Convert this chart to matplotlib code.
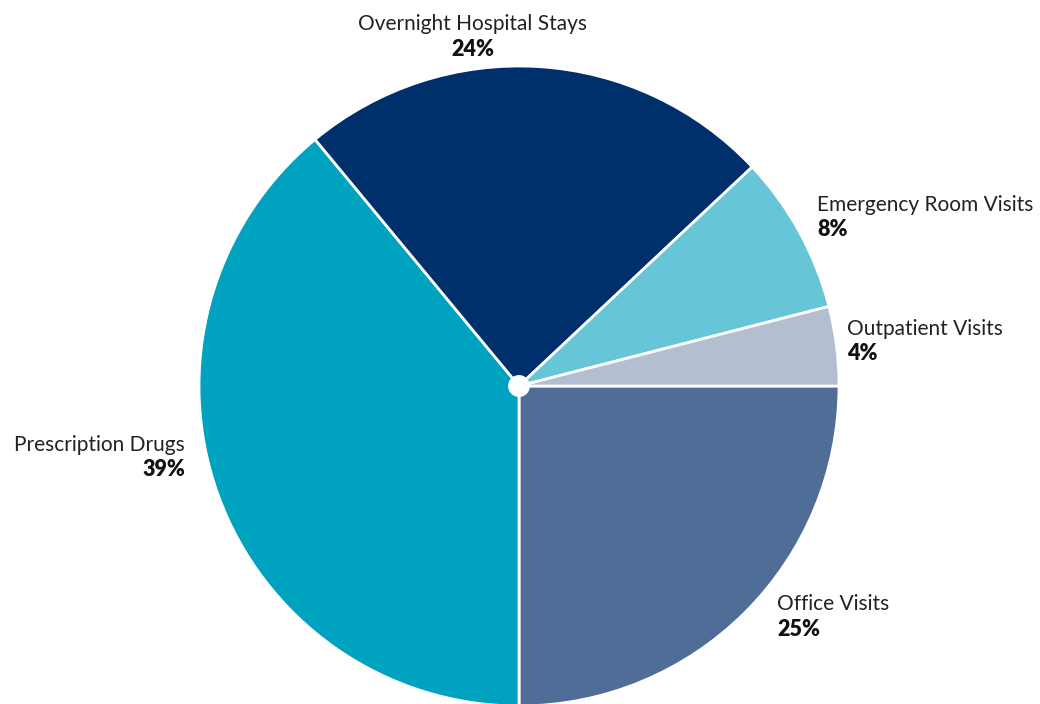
import matplotlib
matplotlib.use("Agg")
import matplotlib.pyplot as plt

categories = ["Office Visits", "Prescription Drugs", "Overnight Hospital Stays",
              "Emergency Room Visits", "Outpatient Visits"]
shares = [25, 39, 24, 8, 4]
colors = ["#4F6D97", "#00A3BF", "#00306B", "#66C5D6", "#B3BFD1"]

W, H = 1040, 704
fig = plt.figure(figsize=(W / 100, H / 100), dpi=100)

cx, cy, r = 519, 386, 320
ax = fig.add_axes([(cx - r) / W, (H - cy - r) / H, 2 * r / W, 2 * r / H])

ax.pie(shares, colors=colors, startangle=0, counterclock=False, radius=1,
       wedgeprops=dict(edgecolor="white", linewidth=2))
ax.add_patch(plt.Circle((0, 0), 0.032, color="white", zorder=5))
ax.set_xlim(-1, 1)
ax.set_ylim(-1, 1)
ax.set_aspect("equal")
ax.axis("off")

# label anchor (pixel x, pixel y of the name line, horizontal alignment)
label_pos = {
    "Office Visits": (777, 604, "left"),
    "Prescription Drugs": (185, 445, "right"),
    "Overnight Hospital Stays": (473, 24, "center"),
    "Emergency Room Visits": (817, 205, "left"),
    "Outpatient Visits": (847, 329, "left"),
}

font = "Lato"
for name, val in zip(categories, shares):
    px, py, ha = label_pos[name]
    fig.text(px / W, 1 - py / H, name, ha=ha, va="center", fontsize=15,
             family=font, color="#222222")
    fig.text(px / W, 1 - (py + 25) / H, f"{val}%", ha=ha, va="center",
             fontsize=15.5, family=font, fontweight="heavy", color="#111111")

fig.savefig("out.png", dpi=100, facecolor="white")
